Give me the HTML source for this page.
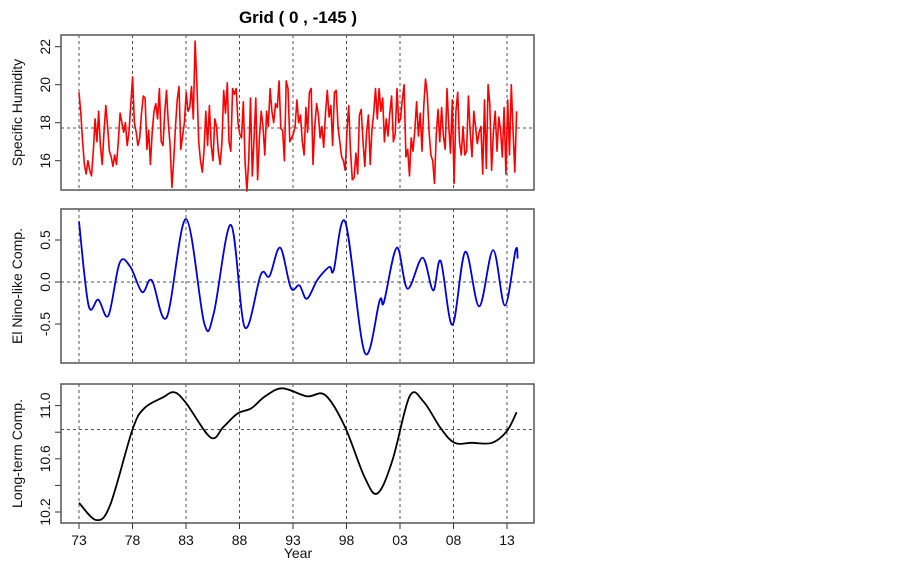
<!DOCTYPE html>
<html><head><meta charset="utf-8"><style>
body{margin:0;background:#fff;}
svg{display:block;font-family:"Liberation Sans",Arial,sans-serif;}
</style></head><body>
<svg id="chart" width="902" height="566" viewBox="0 0 902 566">
<text x="298" y="23" text-anchor="middle" font-size="17" font-weight="bold">Grid ( 0 , -145 )</text>
<g id="plots"></g>
</svg>
<script>
const years = ["73","78","83","88","93","98","03","08","13"];
const humidity = [
19.6,18.5,17.0,15.8,15.3,16.0, 15.5,15.2,16.5,18.2,17.0,18.6, 16.8,15.8,17.5,18.9,17.8,16.5,
16.2,15.7,16.3,15.8,17.0,18.5, 18.0,17.5,18.0,16.8,17.5,19.0, 20.4,18.0,17.5,16.8,17.2,18.5,
19.4,19.3,16.6,17.6,15.8,17.5, 18.6,19.0,18.2,19.8,17.0,16.8, 18.5,19.7,18.0,16.8,14.6,16.0,
17.8,19.2,19.9,16.6,17.3,18.0, 19.6,18.6,18.8,19.9,18.2,22.3, 20.0,17.0,16.0,15.4,16.5,18.6,
16.8,18.9,16.8,16.0,18.2,17.8, 16.5,15.8,16.9,19.7,18.5,20.1, 17.0,16.5,19.8,19.5,19.8,18.0,
17.4,17.2,19.1,15.9,14.4,16.0, 19.3,15.2,17.2,19.3,15.0,17.2, 18.6,17.8,16.3,18.6,17.8,19.8,
18.6,18.0,19.0,18.8,20.2,17.7, 17.6,16.0,20.2,19.8,17.0,17.2, 17.4,17.8,19.2,18.0,18.4,17.0,
16.3,18.8,17.5,19.6,19.8,15.8, 17.8,19.0,18.4,17.2,17.8,16.7, 18.5,19.7,18.3,18.9,16.8,19.6,
19.7,17.8,17.0,16.2,16.0,15.5, 17.5,18.9,16.5,15.0,15.1,16.4, 15.3,18.4,18.7,17.0,15.7,17.5,
18.4,15.8,17.6,18.5,19.8,18.2, 19.8,18.6,19.3,17.0,18.2,17.3, 18.5,19.4,17.0,17.4,19.8,18.0,
18.2,19.2,20.0,16.2,16.6,15.2, 17.2,16.5,17.6,19.1,17.3,18.5, 16.5,18.8,20.3,19.5,17.5,16.3,
16.0,14.8,17.3,18.7,17.0,18.8, 17.3,16.6,19.8,17.8,16.4,19.2, 14.8,18.6,19.6,17.0,16.3,17.8,
16.3,16.5,19.4,17.5,16.2,18.6, 17.8,16.9,17.5,17.8,15.3,19.2, 15.6,20.0,19.0,15.5,17.5,18.6,
16.5,18.3,17.6,16.2,18.8,15.3, 19.2,16.3,20.0,17.5,15.4,18.6];
const ninoYears = [1973.0,1973.9,1974.8,1975.75,1976.8,1977.8,1978.9,1979.8,1981.2,1983.0,1984.7,1985.6,1987.2,1988.5,1990.0,1990.8,1991.8,1992.8,1993.6,1994.3,1995.3,1996.4,1996.8,1997.9,1999.7,2001.1,2001.5,2002.7,2003.7,2005.1,2006.1,2006.8,2007.9,2009.1,2010.4,2011.7,2012.8,2013.8,2014.0];
const ninoValues = [0.72,-0.28,-0.21,-0.40,0.23,0.18,-0.12,0.02,-0.42,0.75,-0.49,-0.37,0.68,-0.54,0.09,0.07,0.41,-0.07,-0.04,-0.20,0.03,0.18,0.14,0.71,-0.84,-0.22,-0.24,0.41,-0.08,0.29,-0.10,0.25,-0.51,0.36,-0.29,0.38,-0.28,0.38,0.28];
const trendYears = [1973.0,1974.6,1975.9,1978.0,1979.1,1980.8,1981.9,1983.0,1985.3,1986.5,1987.8,1989.1,1990.4,1992.0,1994.3,1996.0,1997.8,1999.7,2000.9,2002.3,2003.9,2005.2,2006.8,2008.1,2009.7,2011.6,2013.0,2013.9];
const trendValues = [10.27,10.14,10.25,10.82,10.98,11.06,11.10,11.02,10.76,10.84,10.94,10.98,11.07,11.13,11.07,11.08,10.85,10.46,10.34,10.59,11.07,11.03,10.83,10.72,10.72,10.72,10.81,10.95];

const NS="http://www.w3.org/2000/svg";
const g=document.getElementById('plots');
const L=61,R=534;
const xs=yr=>79+(yr-1973)*10.7;
function el(t,a,p){const e=document.createElementNS(NS,t);for(const k in a)e.setAttribute(k,a[k]);(p||g).appendChild(e);return e;}
function smooth(pts){let d='M'+pts[0][0].toFixed(1)+','+pts[0][1].toFixed(1);
 for(let i=0;i<pts.length-1;i++){const p0=pts[i-1]||pts[i],p1=pts[i],p2=pts[i+1],p3=pts[i+2]||p2;
 const c1=[p1[0]+(p2[0]-p0[0])/6,p1[1]+(p2[1]-p0[1])/6],c2=[p2[0]-(p3[0]-p1[0])/6,p2[1]-(p3[1]-p1[1])/6];
 d+=`C${c1[0].toFixed(1)},${c1[1].toFixed(1)} ${c2[0].toFixed(1)},${c2[1].toFixed(1)} ${p2[0].toFixed(1)},${p2[1].toFixed(1)}`;}
 return d;}
function panel(name,top,bot,ys,ticks,labels,ref,title,bottomAxis){
 const pg=el('g',{});
 
 
 years.forEach((y,i)=>{const x=xs(1973+5*i);
  const gl=el('line',{x1:x,x2:x,y1:top,y2:bot,stroke:'#555','stroke-width':1,'stroke-dasharray':'3,3'},pg);
  
  });
 const rl=el('line',{x1:L,x2:R,y1:ys(ref),y2:ys(ref),stroke:'#555','stroke-width':1,'stroke-dasharray':'3,3'},pg);
 
 
 ticks.forEach((t,i)=>{const y=ys(t);
  el('line',{x1:L-6,x2:L,y1:y,y2:y,stroke:'#333'},pg);
  if(labels[i]){const tx=el('text',{x:0,y:0,transform:`translate(50,${y}) rotate(-90)`,'text-anchor':'middle','font-size':14,fill:'#111'},pg);
   tx.textContent=labels[i];
   
   }});
 const tt=el('text',{x:0,y:0,transform:`translate(22,${(top+bot)/2}) rotate(-90)`,'text-anchor':'middle','font-size':14,fill:'#111'},pg);
 tt.textContent=title;
 
 
 if(bottomAxis){years.forEach((y,i)=>{const x=xs(1973+5*i);
  el('line',{x1:x,x2:x,y1:bot,y2:bot+6,stroke:'#333'},pg);
  const tx=el('text',{x:x,y:bot+22,'text-anchor':'middle','font-size':14,fill:'#111'},pg);
  tx.textContent=y;
  
  });
  const xt=el('text',{x:298,y:558,'text-anchor':'middle','font-size':14,fill:'#111'},pg);
  xt.textContent='Year';
  
  }
 return pg;}
function frame(pg,top,bot){const r=el('rect',{x:L,y:top,width:R-L,height:bot-top,fill:'none',stroke:'#555','stroke-width':1.5},pg);
 
 }

// Panel 1
const y1=v=>122.7-(v-18)*19;
const p1=panel('humidity',35,190,y1,[16,18,20,22],['16','18','20','22'],17.72,'Specific Humidity',false);
const n=humidity.length;
const hpts=humidity.map((v,i)=>[xs(1973+i*(40.9/(n-1))),y1(v)]);
const hl=el('polyline',{points:hpts.map(p=>p[0].toFixed(1)+','+p[1].toFixed(1)).join(' '),fill:'none',stroke:'#f00','stroke-width':1.6,'stroke-linejoin':'round'},p1);


frame(p1,35,190);

// Panel 2
const y2=v=>282-v*84;
const p2=panel('el-nino',209,363,y2,[-0.5,0,0.5],['-0.5','0.0','0.5'],0,'El Nino-like Comp.',false);
const bl=el('path',{d:smooth(ninoYears.map((yr,i)=>[xs(yr),y2(ninoValues[i])])),fill:'none',stroke:'#0000e0','stroke-width':1.8},p2);


frame(p2,209,363);

// Panel 3
const y3=v=>405.6-(v-11)*133;
const p3=panel('long-term',384,523,y3,[10.2,10.4,10.6,10.8,11.0],['10.2','','10.6','','11.0'],10.82,'Long-term Comp.',true);
const kl=el('path',{d:smooth(trendYears.map((yr,i)=>[xs(yr),y3(trendValues[i])])),fill:'none',stroke:'#000','stroke-width':1.8},p3);


frame(p3,384,523);
</script>
</body></html>
